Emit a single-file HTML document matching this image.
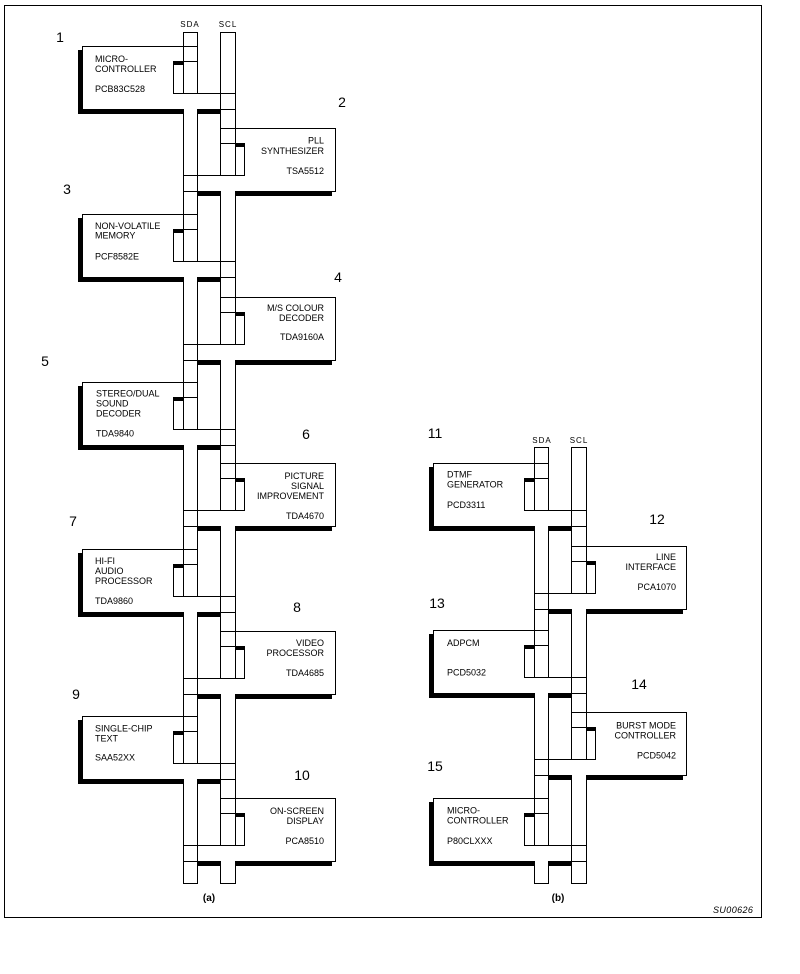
<!DOCTYPE html>
<html><head><meta charset="utf-8"><style>
html,body{margin:0;padding:0;background:#fff;}
svg{display:block;}
text{font-family:"Liberation Sans",sans-serif;fill:#000;}
.t{font-size:9px;}
.n{font-size:14px;text-anchor:middle;}
.b{font-size:8px;text-anchor:middle;letter-spacing:1px;}
.e{text-anchor:end;}
</style></head><body>
<svg width="800" height="974" viewBox="0 0 800 974" xmlns="http://www.w3.org/2000/svg" shape-rendering="crispEdges">
<defs>
<g id="LB">
<rect x="78" y="4" width="4" height="64" fill="#000"/>
<rect x="78" y="63" width="142" height="5" fill="#000"/>
<rect x="184" y="63" width="13" height="5" fill="#fff"/>
<path d="M82.5 0 V64 M82 0.5 H198 M183 15.5 H198 M173.5 15 V48 M173 47.5 H236 M220 63.5 H236" stroke="#000" stroke-width="1" fill="none"/>
<rect x="173" y="15" width="10" height="4" fill="#000"/>
</g>
<g id="RB">
<path d="M197 63.5 H336 M335.5 0 V64 M220 0.5 H336 M220 15.5 H236 M244.5 15 V48 M183 47.5 H245 M183 63.5 H198" stroke="#000" stroke-width="1" fill="none"/>
<rect x="197" y="63" width="135" height="5" fill="#000"/>
<rect x="221" y="63" width="14" height="5" fill="#fff"/>
<rect x="235" y="15" width="10" height="4" fill="#000"/>
</g>
</defs>

<!-- frame -->
<rect x="4.5" y="5.5" width="757" height="912" fill="none" stroke="#000"/>

<!-- (a) blocks -->
<use href="#LB" transform="translate(0,46)"/>
<use href="#RB" transform="translate(0,128)"/>
<use href="#LB" transform="translate(0,214)"/>
<use href="#RB" transform="translate(0,297)"/>
<use href="#LB" transform="translate(0,382)"/>
<use href="#RB" transform="translate(0,463)"/>
<use href="#LB" transform="translate(0,549)"/>
<use href="#RB" transform="translate(0,631)"/>
<use href="#LB" transform="translate(0,716)"/>
<use href="#RB" transform="translate(0,798)"/>

<!-- (a) buses -->
<path fill="none" stroke="#000" d="
M183.5 32 V94 M183.5 109 V262 M183.5 277 V430 M183.5 445 V597 M183.5 612 V764 M183.5 779 V884
M197.5 32 V94 M197.5 109 V262 M197.5 277 V430 M197.5 445 V597 M197.5 612 V764 M197.5 779 V884
M220.5 32 V176 M220.5 191 V345 M220.5 360 V511 M220.5 526 V679 M220.5 694 V846 M220.5 861 V884
M235.5 32 V176 M235.5 191 V345 M235.5 360 V511 M235.5 526 V679 M235.5 694 V846 M235.5 861 V884
M183 32.5 H198 M220 32.5 H236 M183 883.5 H198 M220 883.5 H236"/>

<!-- (b) blocks -->
<use href="#LB" transform="translate(351,463)"/>
<use href="#RB" transform="translate(351,546)"/>
<use href="#LB" transform="translate(351,630)"/>
<use href="#RB" transform="translate(351,712)"/>
<use href="#LB" transform="translate(351,798)"/>

<!-- (b) buses -->
<path fill="none" stroke="#000" d="
M534.5 447 V511 M534.5 526 V678 M534.5 693 V846 M534.5 861 V884
M548.5 447 V511 M548.5 526 V678 M548.5 693 V846 M548.5 861 V884
M571.5 447 V594 M571.5 609 V760 M571.5 775 V884
M586.5 447 V594 M586.5 609 V760 M586.5 775 V884
M534 447.5 H549 M571 447.5 H587 M534 883.5 H549 M571 883.5 H587"/>

<!-- bus labels -->
<text class="b" x="190" y="27">SDA</text>
<text class="b" x="228" y="27">SCL</text>
<text class="b" x="542" y="443">SDA</text>
<text class="b" x="579" y="443">SCL</text>

<!-- numbers -->
<text class="n" x="60" y="42">1</text>
<text class="n" x="342" y="107">2</text>
<text class="n" x="67" y="194">3</text>
<text class="n" x="338" y="282">4</text>
<text class="n" x="45" y="366">5</text>
<text class="n" x="306" y="439">6</text>
<text class="n" x="73" y="526">7</text>
<text class="n" x="297" y="612">8</text>
<text class="n" x="76" y="699">9</text>
<text class="n" x="302" y="780">10</text>
<text class="n" x="435" y="438">11</text>
<text class="n" x="657" y="524">12</text>
<text class="n" x="437" y="608">13</text>
<text class="n" x="639" y="689">14</text>
<text class="n" x="435" y="771">15</text>

<!-- (a) left block text -->
<text class="t" x="95" y="62">MICRO-</text>
<text class="t" x="95" y="72">CONTROLLER</text>
<text class="t" x="95" y="92">PCB83C528</text>

<text class="t" x="95" y="229">NON-VOLATILE</text>
<text class="t" x="95" y="238.5">MEMORY</text>
<text class="t" x="95" y="259.5">PCF8582E</text>

<text class="t" x="96" y="396.5">STEREO/DUAL</text>
<text class="t" x="96" y="406.5">SOUND</text>
<text class="t" x="96" y="416.5">DECODER</text>
<text class="t" x="96" y="436.5">TDA9840</text>

<text class="t" x="95" y="564">HI-FI</text>
<text class="t" x="95" y="574">AUDIO</text>
<text class="t" x="95" y="584">PROCESSOR</text>
<text class="t" x="95" y="604">TDA9860</text>

<text class="t" x="95" y="731.5">SINGLE-CHIP</text>
<text class="t" x="95" y="741.5">TEXT</text>
<text class="t" x="95" y="760.5">SAA52XX</text>

<!-- (a) right block text -->
<text class="t e" x="324" y="143.5">PLL</text>
<text class="t e" x="324" y="154">SYNTHESIZER</text>
<text class="t e" x="324" y="174">TSA5512</text>

<text class="t e" x="324" y="311">M/S COLOUR</text>
<text class="t e" x="324" y="321">DECODER</text>
<text class="t e" x="324" y="340">TDA9160A</text>

<text class="t e" x="324" y="479">PICTURE</text>
<text class="t e" x="324" y="489">SIGNAL</text>
<text class="t e" x="324" y="499">IMPROVEMENT</text>
<text class="t e" x="324" y="519">TDA4670</text>

<text class="t e" x="324" y="646">VIDEO</text>
<text class="t e" x="324" y="656">PROCESSOR</text>
<text class="t e" x="324" y="676">TDA4685</text>

<text class="t e" x="324" y="814">ON-SCREEN</text>
<text class="t e" x="324" y="824">DISPLAY</text>
<text class="t e" x="324" y="844">PCA8510</text>

<!-- (b) text -->
<text class="t" x="447" y="477.5">DTMF</text>
<text class="t" x="447" y="487.5">GENERATOR</text>
<text class="t" x="447" y="508">PCD3311</text>

<text class="t e" x="676" y="560">LINE</text>
<text class="t e" x="676" y="570">INTERFACE</text>
<text class="t e" x="676" y="590">PCA1070</text>

<text class="t" x="447" y="646">ADPCM</text>
<text class="t" x="447" y="675.5">PCD5032</text>

<text class="t e" x="676" y="728.5">BURST MODE</text>
<text class="t e" x="676" y="738.5">CONTROLLER</text>
<text class="t e" x="676" y="758.5">PCD5042</text>

<text class="t" x="447" y="813.5">MICRO-</text>
<text class="t" x="447" y="823.5">CONTROLLER</text>
<text class="t" x="447" y="844">P80CLXXX</text>

<!-- captions -->
<text x="209" y="901" style="font-size:10px;font-weight:bold;text-anchor:middle;">(a)</text>
<text x="558" y="901" style="font-size:10px;font-weight:bold;text-anchor:middle;">(b)</text>
<text x="713" y="913" style="font-size:9px;font-style:italic;letter-spacing:0.4px;">SU00626</text>
</svg>
</body></html>
